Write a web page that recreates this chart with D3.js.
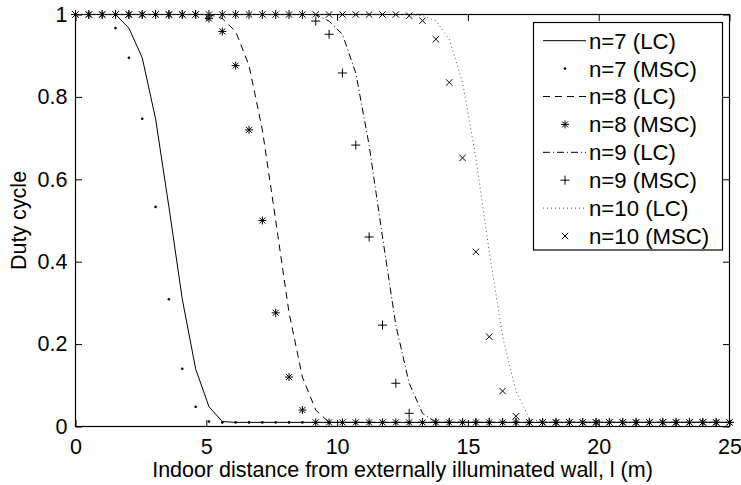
<!DOCTYPE html>
<html>
<head>
<meta charset="utf-8">
<script src="https://cdn.jsdelivr.net/npm/d3@7/dist/d3.min.js"></script>
<style>
  html, body { margin: 0; padding: 0; background: #fff; }
  svg { display: block; font-family: "Liberation Sans", Arial, Helvetica, sans-serif; }
</style>
</head>
<body>
<svg id="chart" width="741" height="485"></svg>
<script>
// ---- data ----
const distance = [0,0.510,1.020,1.531,2.041,2.551,3.061,3.571,4.082,4.592,5.102,5.612,6.122,6.633,7.143,7.653,8.163,8.673,9.184,9.694,10.204,10.714,11.224,11.735,12.245,12.755,13.265,13.776,14.286,14.796,15.306,15.816,16.327,16.837,17.347,17.857,18.367,18.878,19.388,19.898,20.408,20.918,21.429,21.939,22.449,22.959,23.469,23.980,24.490,25];

const n7LC  = [1,1,1,1,0.967,0.895,0.747,0.533,0.309,0.14,0.048,0.012,0.01,0.01,0.01,0.01,0.01,0.01,0.01,0.01,0.01,0.01,0.01,0.01,0.01,0.01,0.01,0.01,0.01,0.01,0.01,0.01,0.01,0.01,0.01,0.01,0.01,0.01,0.01,0.01,0.01,0.01,0.01,0.01,0.01,0.01,0.01,0.01,0.01,0.01];
const n7MSC = [1,1,1,0.967,0.895,0.747,0.533,0.309,0.14,0.048,0.012,0.01,0.01,0.01,0.01,0.01,0.01,0.01,0.01,0.01,0.01,0.01,0.01,0.01,0.01,0.01,0.01,0.01,0.01,0.01,0.01,0.01,0.01,0.01,0.01,0.01,0.01,0.01,0.01,0.01,0.01,0.01,0.01,0.01,0.01,0.01,0.01,0.01,0.01,0.01];
const n8LC  = [1,1,1,1,1,1,1,1,1,1,1,0.99,0.959,0.876,0.72,0.50,0.276,0.12,0.04,0.01,0.01,0.01,0.01,0.01,0.01,0.01,0.01,0.01,0.01,0.01,0.01,0.01,0.01,0.01,0.01,0.01,0.01,0.01,0.01,0.01,0.01,0.01,0.01,0.01,0.01,0.01,0.01,0.01,0.01,0.01];
const n8MSC = [1,1,1,1,1,1,1,1,1,1,0.99,0.959,0.876,0.72,0.50,0.276,0.12,0.04,0.01,0.01,0.01,0.01,0.01,0.01,0.01,0.01,0.01,0.01,0.01,0.01,0.01,0.01,0.01,0.01,0.01,0.01,0.01,0.01,0.01,0.01,0.01,0.01,0.01,0.01,0.01,0.01,0.01,0.01,0.01,0.01];
const n9LC  = [1,1,1,1,1,1,1,1,1,1,1,1,1,1,1,1,1,1,1,0.984,0.952,0.858,0.683,0.46,0.246,0.105,0.032,0.01,0.01,0.01,0.01,0.01,0.01,0.01,0.01,0.01,0.01,0.01,0.01,0.01,0.01,0.01,0.01,0.01,0.01,0.01,0.01,0.01,0.01,0.01];
const n9MSC = [1,1,1,1,1,1,1,1,1,1,1,1,1,1,1,1,1,1,0.984,0.952,0.858,0.683,0.46,0.246,0.105,0.032,0.01,0.01,0.01,0.01,0.01,0.01,0.01,0.01,0.01,0.01,0.01,0.01,0.01,0.01,0.01,0.01,0.01,0.01,0.01,0.01,0.01,0.01,0.01,0.01];
const n10LC = [1,1,1,1,1,1,1,1,1,1,1,1,1,1,1,1,1,1,1,1,1,1,1,1,1,1,0.997,0.985,0.94,0.835,0.652,0.424,0.218,0.086,0.02,0.01,0.01,0.01,0.01,0.01,0.01,0.01,0.01,0.01,0.01,0.01,0.01,0.01,0.01,0.01];
const n10MSC= [1,1,1,1,1,1,1,1,1,1,1,1,1,1,1,1,1,1,1,1,1,1,1,1,1,0.997,0.985,0.94,0.835,0.652,0.424,0.218,0.086,0.025,0.01,0.01,0.01,0.01,0.01,0.01,0.01,0.01,0.01,0.01,0.01,0.01,0.01,0.01,0.01,0.01];

const xTicks = [0,5,10,15,20,25];
const yTicks = [0,0.2,0.4,0.6,0.8,1];
const yTickLabels = ["0","0.2","0.4","0.6","0.8","1"];
const seriesNames = ["n=7 (LC)","n=7 (MSC)","n=8 (LC)","n=8 (MSC)","n=9 (LC)","n=9 (MSC)","n=10 (LC)","n=10 (MSC)"];
const xLabel = "Indoor distance from externally illuminated wall, l (m)";
const yLabel = "Duty cycle";

// ---- series styling ----
const series = [
  {name: seriesNames[0], values: n7LC,  kind: "line", dash: null, color: "#000"},
  {name: seriesNames[1], values: n7MSC, kind: "marker", marker: "dot"},
  {name: seriesNames[2], values: n8LC,  kind: "line", dash: "7,5", color: "#000"},
  {name: seriesNames[3], values: n8MSC, kind: "marker", marker: "star"},
  {name: seriesNames[4], values: n9LC,  kind: "line", dash: "7,3,1,3", color: "#000"},
  {name: seriesNames[5], values: n9MSC, kind: "marker", marker: "plus"},
  {name: seriesNames[6], values: n10LC, kind: "line", dash: "1,3", color: "#555"},
  {name: seriesNames[7], values: n10MSC,kind: "marker", marker: "cross"}
];

const svg = d3.select("#chart");
const L = 75.5, R = 729.5, T = 14.5, B = 426.5;
const x = d3.scaleLinear().domain([0,25]).range([L,R]);
const y = d3.scaleLinear().domain([0,1]).range([B,T]);
const FS = 21.5;
const LFS = 22.2;
const TL = 6.5;

// axes
const gx = svg.append("g").attr("transform", `translate(0,${B})`)
  .call(d3.axisBottom(x).tickValues(xTicks).tickFormat(d3.format("d")).tickSize(-TL).tickSizeOuter(0).tickPadding(12));
const gy = svg.append("g").attr("transform", `translate(${L},0)`)
  .call(d3.axisLeft(y).tickValues(yTicks).tickFormat((d,i)=>yTickLabels[i]).tickSize(-TL).tickSizeOuter(0).tickPadding(8));
const gxt = svg.append("g").attr("transform", `translate(0,${T})`)
  .call(d3.axisTop(x).tickValues(xTicks).tickFormat("").tickSize(-TL).tickSizeOuter(0));
const gyr = svg.append("g").attr("transform", `translate(${R},0)`)
  .call(d3.axisRight(y).tickValues(yTicks).tickFormat("").tickSize(-TL).tickSizeOuter(0));
[gx,gy,gxt,gyr].forEach(g => {
  g.select(".domain").remove();
  g.selectAll(".tick line").attr("stroke","#000").attr("stroke-width",1);
  g.selectAll("text").attr("fill","#000").attr("font-size",FS).attr("font-family","'Liberation Sans', Arial, sans-serif");
});
svg.append("rect").attr("x",L).attr("y",T).attr("width",R-L).attr("height",B-T)
  .attr("fill","none").attr("stroke","#000").attr("stroke-width",1.2);

// axis labels
svg.append("text").attr("x",(L+R)/2).attr("y",476.5).attr("text-anchor","middle")
  .attr("font-size",FS).attr("fill","#000").text(xLabel);
svg.append("text").attr("transform",`translate(25.5,${(T+B)/2}) rotate(-90)`).attr("text-anchor","middle")
  .attr("font-size",FS).attr("fill","#000").text(yLabel);

// markers
function drawMarker(g, type, cx, cy) {
  if (type === "dot") {
    g.append("circle").attr("cx",cx).attr("cy",cy).attr("r",1.3).attr("fill","#000");
  } else if (type === "plus") {
    const h = 4.5;
    g.append("path").attr("d",`M${cx-h},${cy}H${cx+h}M${cx},${cy-h}V${cy+h}`).attr("stroke","#000").attr("stroke-width",1).attr("fill","none");
  } else if (type === "cross") {
    const h = 3.2;
    g.append("path").attr("d",`M${cx-h},${cy-h}L${cx+h},${cy+h}M${cx-h},${cy+h}L${cx+h},${cy-h}`).attr("stroke","#000").attr("stroke-width",1).attr("fill","none");
  } else if (type === "star") {
    const h = 4, d = 3;
    g.append("path").attr("d",`M${cx-h},${cy}H${cx+h}M${cx},${cy-h}V${cy+h}M${cx-d},${cy-d}L${cx+d},${cy+d}M${cx-d},${cy+d}L${cx+d},${cy-d}`)
      .attr("stroke","#000").attr("stroke-width",1).attr("fill","none");
  }
}

const line = d3.line().x((d,i)=>x(distance[i])).y(d=>y(d));
const plotG = svg.append("g");
series.forEach(s => {
  if (s.kind === "line") {
    plotG.append("path").datum(s.values).attr("d", line)
      .attr("fill","none").attr("stroke",s.color).attr("stroke-width",1)
      .attr("stroke-dasharray", s.dash);
  } else {
    const g = plotG.append("g");
    s.values.forEach((v,i) => drawMarker(g, s.marker, x(distance[i]), y(v)));
  }
});

// legend
const lg = svg.append("g");
lg.append("rect").attr("x",533.5).attr("y",22.5).attr("width",189).attr("height",227.5)
  .attr("fill","#fff").attr("stroke","#000").attr("stroke-width",1.2);
series.forEach((s,k) => {
  const cy = 40.7 + k*27.9;
  if (s.kind === "line") {
    lg.append("path").attr("d",`M543,${cy}H586`).attr("stroke",s.color).attr("stroke-width",1)
      .attr("fill","none").attr("stroke-dasharray", s.dash);
  } else {
    drawMarker(lg, s.marker, 565, cy);
  }
  lg.append("text").attr("x",589).attr("y",cy).attr("dy","0.36em").attr("font-size",LFS).attr("fill","#000").text(s.name);
});
</script>
</body>
</html>
